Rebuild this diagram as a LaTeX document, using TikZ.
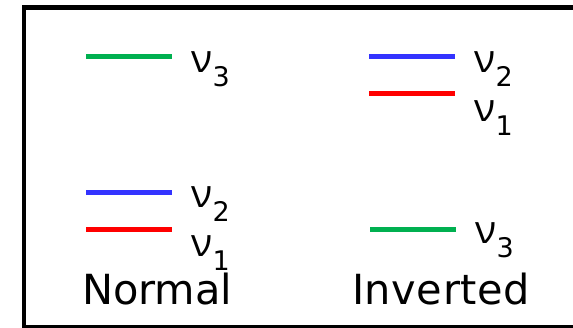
\documentclass[tikz,border=0pt]{standalone}
\usepackage{fontspec}
\setmainfont{DejaVu Sans}
\newfontfamily\nufont{Open Sans}
\definecolor{lvgreen}{RGB}{0,176,80}
\definecolor{lvblue}{RGB}{51,51,255}
\definecolor{lvred}{RGB}{255,0,0}
\newcommand{\nulab}[1]{{\nufont\fontsize{39}{39}\selectfont ν}\kern0.5pt\raisebox{-14pt}{\fontsize{27}{27}\selectfont #1}}
\tikzset{
  level/.style={line width=5pt},
  lab/.style={anchor=base west, inner sep=0pt, outer sep=0pt},
  title/.style={anchor=base west, inner sep=0pt, outer sep=0pt, font=\fontsize{41.5}{41.5}\selectfont},
  frame/.style={line width=4.5pt, draw=black}
}
\begin{document}
\begin{tikzpicture}[x=1pt,y=-1pt]
\useasboundingbox (0,0) rectangle (573,328);
\clip (0,0) rectangle (573,328);
\draw[frame] (24,7.5) rectangle (600,327);
% Normal hierarchy
\draw[level,lvgreen] (86,57) -- (172,57);
\node[lab] (n3) at (191,73) {\nulab{3}};
\draw[level,lvblue] (86,193) -- (172,193);
\node[lab] (n2) at (191,208) {\nulab{2}};
\draw[level,lvred] (86,230) -- (172,230);
\node[lab] (n1) at (191,257) {\nulab{1}};
\node[title] (normal) at (82,305) {Normal};
% Inverted hierarchy
\draw[level,lvblue] (369,57) -- (455,57);
\node[lab] (i2) at (474,73) {\nulab{2}};
\draw[level,lvred] (369,94) -- (455,94);
\node[lab] (i1) at (474,122) {\nulab{1}};
\draw[level,lvgreen] (370,230) -- (456,230);
\node[lab] (i3) at (475,244) {\nulab{3}};
\node[title] (inverted) at (352,305) {\addfontfeature{LetterSpace=1.5}Inverted};
\end{tikzpicture}
\end{document}
